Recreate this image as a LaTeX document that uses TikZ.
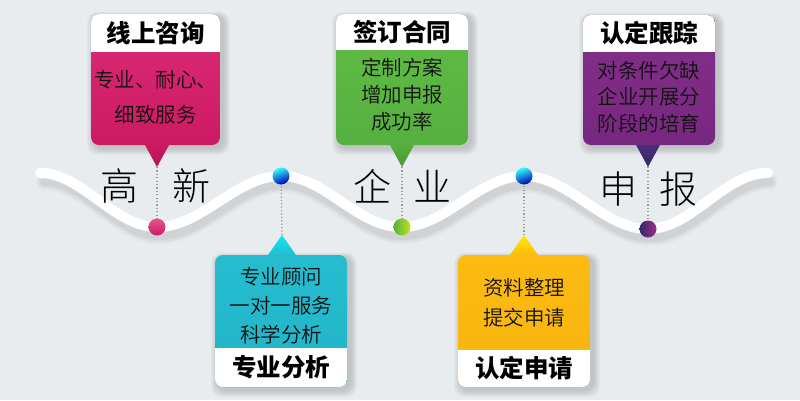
\documentclass[tikz,border=0pt]{standalone}
\usepackage{fontspec}
\newfontfamily\hei{Noto Sans CJK SC}
\newfontfamily\song{Noto Sans CJK SC DemiLight}
\newfontfamily\songl{Noto Sans CJK SC Light}
\definecolor{bg}{HTML}{E8ECEF}
\definecolor{magT}{HTML}{DC2C76}
\definecolor{magB}{HTML}{CC1A62}
\definecolor{grnT}{HTML}{62BC46}
\definecolor{grnB}{HTML}{56B03F}
\definecolor{purT}{HTML}{84308A}
\definecolor{purB}{HTML}{782780}
\definecolor{indT}{HTML}{4A2E78}
\definecolor{indB}{HTML}{33286A}
\definecolor{cyaT}{HTML}{26BCCF}
\definecolor{cyaB}{HTML}{22B4C8}
\definecolor{yelT}{HTML}{FBBB12}
\definecolor{yelB}{HTML}{F8B40C}
\definecolor{txt}{HTML}{111111}
\definecolor{dotc}{HTML}{9A9A9A}
\newcommand\cardbox[8]{%
  \foreach \k in {1,...,7}{%
    \fill[black,opacity=0.022,rounded corners=10pt]
      (#1+3-\k,#3+2-\k*0.6) rectangle (#2+3+\k,#4+3+\k);}
  \begin{scope}
    \clip[rounded corners=8pt] (#1,#3) rectangle (#2,#4);
    \shade[top color=#7,bottom color=#8] (#1,#3) rectangle (#2,#4);
    \fill[white] (#1,#5) rectangle (#2,#6);
  \end{scope}}
\tikzset{
  head/.style={font=\hei\bfseries\fontsize{24.5}{26}\selectfont,text=black,inner sep=0pt},
  body/.style={text=txt,align=center,inner sep=0pt},
  big/.style={font=\songl\fontsize{38}{40}\selectfont,text=black,inner sep=0pt},
  dotline/.style={dotc,line width=1.3pt,dash pattern=on 1.2pt off 2.2pt},
  dotball/.style={circle,minimum size=17pt,inner sep=0pt},
}
\begin{document}
\begin{tikzpicture}[x=1pt,y=-1pt]
\useasboundingbox (0,0) rectangle (800,400);
\fill[bg] (0,0) rectangle (800,400);

% wave shadow
\foreach \k/\o in {16/0.025,12/0.035,8/0.045}{
\draw[black,opacity=\o,line width=\k pt,line cap=round]
  (44,182) .. controls (86,182) and (117,236) .. (159,236)
  .. controls (204,236) and (238,185) .. (283,185)
  .. controls (327,185) and (359,236) .. (403,236)
  .. controls (448,236) and (481,185) .. (526,185)
  .. controls (571,185) and (605,238) .. (650,238)
  .. controls (694,238) and (726,182) .. (770,182);}
% wave
\draw[white,line width=10pt,line cap=round]
  (40,173) .. controls (82,173) and (114,227) .. (157,227)
  .. controls (202,227) and (236,176) .. (281,176)
  .. controls (325,176) and (357,227) .. (401,227)
  .. controls (446,227) and (479,176) .. (524,176)
  .. controls (569,176) and (603,229) .. (648,229)
  .. controls (692,229) and (724,173) .. (768,173);

% big characters
\node[big] (t1) at (119,186) {高};
\node[big] (t2) at (191,186) {新};
\node[big] (t3) at (372,186) {企};
\node[big] (t4) at (432,186) {业};
\node[big] (t5) at (618,189) {申};
\node[big] (t6) at (678,189) {报};

% cards
\cardbox{91}{220}{14}{145}{14}{52}{magT}{magB}
\cardbox{336}{468}{14}{145}{14}{50}{grnT}{grnB}
\cardbox{583}{715}{15}{145}{15}{52}{purT}{purB}
\cardbox{215}{347}{255}{387}{348}{387}{cyaT}{cyaB}
\cardbox{458}{590}{255}{387}{350}{387}{yelT}{yelB}

% pointer triangles
\shade[top color=magB,bottom color=magB!85!black] (145,145) -- (169,145) -- (157,167) -- cycle;
\shade[top color=grnB,bottom color=grnB!85!black] (390,145) -- (414,145) -- (402,167) -- cycle;
\shade[top color=indT,bottom color=indB] (636,145) -- (660,145) -- (648,167) -- cycle;
\shade[top color=cyan!70!cyaT,bottom color=cyaT] (268,255) -- (296,255) -- (282,235) -- cycle;
\shade[top color=yellow!85!orange,bottom color=yelT] (510,255) -- (538,255) -- (524,235) -- cycle;

\coordinate (p1) at (157,167);
\coordinate (p3) at (402,167);
\coordinate (p5) at (648,167);
\coordinate (p2) at (282,235);
\coordinate (p4) at (524,235);

% dots on the wave
\node[dotball] (c1) at (157,227) {};
\node[dotball] (c2) at (281,176) {};
\node[dotball] (c3) at (402,227) {};
\node[dotball] (c4) at (524,176) {};
\node[dotball] (c5) at (648,229) {};

\draw[dotline] (p1) -- (c1.center);
\draw[dotline] (p3) -- (c3.center);
\draw[dotline] (p5) -- (c5.center);
\draw[dotline] (c2.center) -- (p2);
\draw[dotline] (c4.center) -- (p4);

\shade[top color=magT!80!white,bottom color=magB] (c1) circle (8.5);
\shade[top color=cyan!80!white,bottom color=blue!70!black,shading angle=20] (c2) circle (8.5);
\shade[left color=grnB,right color=yellow!60!grnT] (c3) circle (8.5);
\shade[top color=cyan!80!white,bottom color=blue!70!black,shading angle=20] (c4) circle (8.5);
\shade[left color=indB,right color=purT!70!magT] (c5) circle (8.5);

% headers
\node[head] (h1) at (155.5,33) {线上咨询};
\node[head] (h3) at (402,32) {签订合同};
\node[head] (h5) at (649,33.5) {认定跟踪};
\node[head] (h2) at (281,367) {专业分析};
\node[head] (h4) at (524,368) {认定申请};

% bodies
\node[body,font=\song\fontsize{20.5}{35}\selectfont] (b1) at (155.5,97.5) {专业、耐心、\\细致服务};
\node[body,font=\song\fontsize{20.5}{27}\selectfont] (b3) at (402,95) {定制方案\\增加申报\\成功率};
\node[body,font=\song\fontsize{20.5}{26.5}\selectfont] (b5) at (649,97) {对条件欠缺\\企业开展分\\阶段的培育};
\node[body,font=\song\fontsize{20.5}{29}\selectfont] (b2) at (281,306) {专业顾问\\一对一服务\\科学分析};
\node[body,font=\song\fontsize{20.5}{30}\selectfont] (b4) at (524,303) {资料整理\\提交申请};
\end{tikzpicture}
\end{document}
